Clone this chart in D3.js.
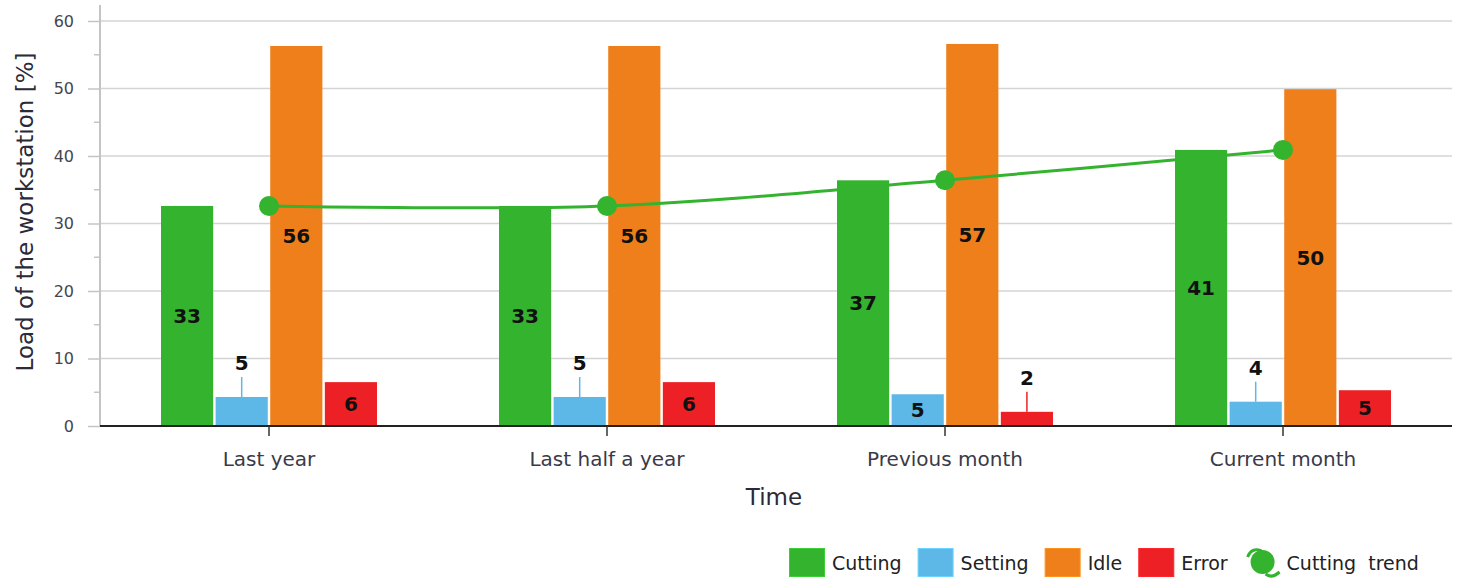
<!DOCTYPE html>
<html>
<head>
<meta charset="utf-8">
<script src="https://cdn.jsdelivr.net/npm/d3@7"></script>
<style>
  html, body { margin: 0; padding: 0; background: #fff; }
  svg { display: block; }
  text { font-family: "DejaVu Sans", Verdana, sans-serif; }
</style>
</head>
<body>
<svg id="chart" width="1462" height="578"></svg>
<script>
// ---- data ----
const categories = ["Last year", "Last half a year", "Previous month", "Current month"];
const seriesNames = ["Cutting", "Setting", "Idle", "Error"];
const cutting = [32.6, 32.6, 36.4, 40.9];
const setting = [4.3, 4.3, 4.7, 3.6];
const idle    = [56.3, 56.3, 56.6, 49.9];
const error   = [6.5, 6.5, 2.1, 5.3];
const cuttingLabels = ["33", "33", "37", "41"];
const settingLabels = ["5", "5", "5", "4"];
const idleLabels    = ["56", "56", "57", "50"];
const errorLabels   = ["6", "6", "2", "5"];
const trendName = "Cutting  trend";
const cuttingTrend = [32.6, 32.6, 36.4, 40.9];
const yTicks = [0, 10, 20, 30, 40, 50, 60];
const yMinorTicks = [5, 15, 25, 35, 45, 55];
const xTitle = "Time";
const yTitle = "Load of the workstation [%]";

const colors = { Cutting: "#34b32f", Setting: "#5db7e7", Idle: "#ef7f1b", Error: "#ed2125" };
const seriesValues = { Cutting: cutting, Setting: setting, Idle: idle, Error: error };
const seriesLabels = { Cutting: cuttingLabels, Setting: settingLabels, Idle: idleLabels, Error: errorLabels };

// ---- layout ----
const svg = d3.select("#chart");
const pLeft = 100, pRight = 1452, pTop = 21, pBottom = 426;

const x = d3.scaleBand().domain(categories).range([pLeft, pRight]).padding(0);
const xs = d3.scaleBand().domain(seriesNames).range([-108, 108]).paddingInner(0.045);
const y = d3.scaleLinear().domain([0, 60]).range([pBottom, pTop]);

// gridlines
svg.append("g").selectAll("line").data(yTicks.filter(d => d > 0)).join("line")
  .attr("x1", pLeft).attr("x2", pRight)
  .attr("y1", d => y(d)).attr("y2", d => y(d))
  .attr("stroke", "#d4d4d4").attr("stroke-width", 1.5);

// y axis line
svg.append("line").attr("x1", pLeft).attr("x2", pLeft).attr("y1", 5).attr("y2", pBottom)
  .attr("stroke", "#c4c4c4").attr("stroke-width", 2);

// y ticks
const yAxis = d3.axisLeft(y).tickValues(yTicks).tickSize(12).tickPadding(14);
const gy = svg.append("g").attr("transform", `translate(${pLeft},0)`).call(yAxis);
gy.select(".domain").remove();
gy.selectAll(".tick line").attr("stroke", "#c4c4c4").attr("stroke-width", 1.5);
gy.selectAll(".tick text").attr("fill", "#464650").style("font-size", "16px")
  .style("font-family", "'DejaVu Sans', sans-serif");
svg.append("g").selectAll("line").data(yMinorTicks).join("line")
  .attr("x1", pLeft - 6).attr("x2", pLeft)
  .attr("y1", d => y(d)).attr("y2", d => y(d))
  .attr("stroke", "#c4c4c4").attr("stroke-width", 1.5);

// bars
const flat = [];
categories.forEach((c, i) => seriesNames.forEach(s => {
  flat.push({ cat: c, i, s, v: seriesValues[s][i], label: seriesLabels[s][i] });
}));

const barX = d => x(d.cat) + x.bandwidth() / 2 + xs(d.s);
svg.append("g").selectAll("rect").data(flat).join("rect")
  .attr("x", barX).attr("width", xs.bandwidth())
  .attr("y", d => y(d.v)).attr("height", d => y(0) - y(d.v))
  .attr("fill", d => colors[d.s]);

// x axis
svg.append("line").attr("x1", pLeft).attr("x2", pRight).attr("y1", pBottom).attr("y2", pBottom)
  .attr("stroke", "#222").attr("stroke-width", 2);
const xAxis = d3.axisBottom(x).tickSize(10).tickPadding(16);
const gx = svg.append("g").attr("transform", `translate(0,${pBottom})`).call(xAxis);
gx.select(".domain").remove();
gx.selectAll(".tick line").attr("stroke", "#333").attr("stroke-width", 1.5);
gx.selectAll(".tick text").attr("fill", "#3a3a48").style("font-size", "20px")
  .style("font-family", "'DejaVu Sans', sans-serif");

// trend line
const trendPts = categories.map((c, i) => [x(c) + x.bandwidth() / 2, y(cuttingTrend[i])]);
svg.append("path").datum(trendPts)
  .attr("d", d3.line().curve(d3.curveCatmullRom.alpha(0.5)))
  .attr("fill", "none").attr("stroke", colors.Cutting).attr("stroke-width", 3);
svg.append("g").selectAll("circle").data(trendPts).join("circle")
  .attr("cx", d => d[0]).attr("cy", d => d[1]).attr("r", 10)
  .attr("fill", colors.Cutting);

// bar labels
const lab = svg.append("g");
flat.forEach(d => {
  const cx = barX(d) + xs.bandwidth() / 2;
  const h = y(0) - y(d.v);
  if (d.v >= 4.5) {
    lab.append("text").attr("x", cx).attr("y", y(d.v) + h / 2)
      .attr("text-anchor", "middle").attr("dominant-baseline", "central")
      .attr("fill", "#111").style("font-size", "20px").style("font-weight", "bold")
      .text(d.label);
  } else {
    lab.append("line").attr("x1", cx).attr("x2", cx)
      .attr("y1", y(d.v)).attr("y2", y(d.v) - 20)
      .attr("stroke", colors[d.s]).attr("stroke-width", 1.5);
    lab.append("text").attr("x", cx).attr("y", y(d.v) - 27)
      .attr("text-anchor", "middle")
      .attr("fill", "#111").style("font-size", "20px").style("font-weight", "bold")
      .text(d.label);
  }
});

// axis titles
svg.append("text").attr("x", 774).attr("y", 505)
  .attr("text-anchor", "middle").attr("fill", "#2a2a38").style("font-size", "23px")
  .text(xTitle);
svg.append("text").attr("transform", `translate(33,${212}) rotate(-90)`)
  .attr("text-anchor", "middle").attr("fill", "#2a2a38").style("font-size", "23px")
  .text(yTitle);

// legend
const leg = svg.append("g");
let lx = 789;
const ly = 548;
seriesNames.concat([trendName]).forEach((name, k) => {
  if (k < seriesNames.length) {
    leg.append("rect").attr("x", lx + 0.5).attr("y", ly + 0.5).attr("width", 35).attr("height", 28)
      .attr("fill", colors[name]).attr("stroke", d3.color(colors[name]).brighter(0.4)).attr("stroke-width", 1);
  } else {
    leg.append("path")
      .attr("d", `M${lx + 4},${ly + 9} Q${lx + 8},${ly - 1} ${lx + 18},${ly + 3} M${lx + 22},${ly + 26} Q${lx + 28},${ly + 31} ${lx + 36},${ly + 24}`)
      .attr("fill", "none").attr("stroke", colors.Cutting).attr("stroke-width", 3);
    leg.append("circle").attr("cx", lx + 19).attr("cy", ly + 14).attr("r", 12).attr("fill", colors.Cutting);
  }
  const t = leg.append("text").attr("x", lx + 43).attr("y", ly + 22)
    .attr("fill", "#222").style("font-size", "19px").style("white-space", "pre").text(name);
  lx += 43 + t.node().getComputedTextLength() + 16;
});
</script>
</body>
</html>
